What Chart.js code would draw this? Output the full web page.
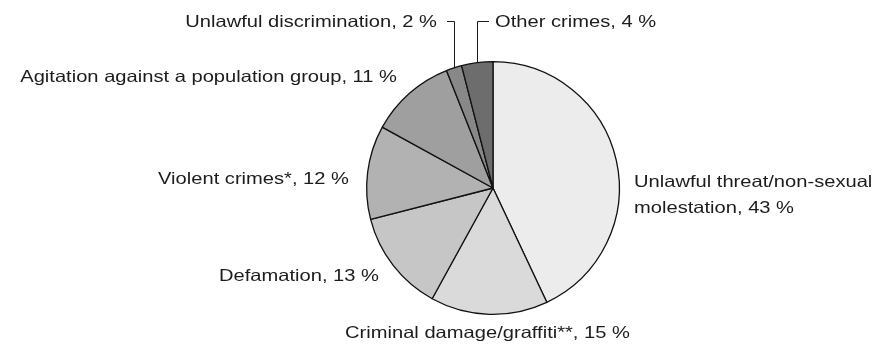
<!DOCTYPE html>
<html>
<head>
<meta charset="utf-8">
<script src="https://cdn.jsdelivr.net/npm/chart.js@4"></script>
<style>
  html, body { margin: 0; padding: 0; background: #fff; }
  #wrap { width: 873px; height: 347px; }
</style>
</head>
<body>
<div id="wrap"><canvas id="myChart"></canvas></div>
<script>
const categories = [
    'Unlawful threat/non-sexual molestation',
    'Criminal damage/graffiti**',
    'Defamation',
    'Violent crimes*',
    'Agitation against a population group',
    'Unlawful discrimination',
    'Other crimes'
];
const shares = [43, 15, 13, 12, 11, 2, 4];
const sliceColors = ['#ececec', '#dadada', '#c6c6c6', '#b2b2b2', '#9f9f9f', '#888888', '#6d6d6d'];

// label text lines (split for wrapping) and placement relative to pie centre (baseline)
const labelLines = [
    ['Unlawful threat/non-sexual', 'molestation, 43 %'],
    ['Criminal damage/graffiti**, 15 %'],
    ['Defamation, 13 %'],
    ['Violent crimes*, 12 %'],
    ['Agitation against a population group, 11 %'],
    ['Unlawful discrimination, 2 %'],
    ['Other crimes, 4 %']
];
const labelPos = [
    { dx: 141, dy: -1, align: 'left' },
    { dx: -148, dy: 150, align: 'left' },
    { dx: -114, dy: 93, align: 'right' },
    { dx: -144, dy: -4, align: 'right' },
    { dx: -96, dy: -106, align: 'right' },
    { dx: -56, dy: -161, align: 'right', leader: 'right' },
    { dx: 2, dy: -161, align: 'left', leader: 'left' }
];
const textScaleX = 1.22;

const pieLabels = {
    id: 'pieLabels',
    afterDraw(chart) {
        const c = chart.ctx;
        const arcs = chart.getDatasetMeta(0).data;
        c.save();
        c.font = '16.5px "Liberation Sans", Arial, sans-serif';
        c.fillStyle = '#1c1c1c';
        c.strokeStyle = '#1c1c1c';
        c.lineWidth = 1;
        c.textBaseline = 'alphabetic';
        arcs.forEach((arc, i) => {
            const p = labelPos[i];
            const cx = arc.x, cy = arc.y;
            const tx = cx + p.dx, ty = cy + p.dy;
            labelLines[i].forEach((ln, k) => {
                c.save();
                c.translate(tx, ty + k * 26);
                c.scale(textScaleX, 1);
                c.textAlign = p.align;
                c.fillText(ln, 0, 0);
                c.restore();
            });
            if (p.leader) {
                const mid = (arc.startAngle + arc.endAngle) / 2;
                const ex = cx + Math.cos(mid) * arc.outerRadius;
                const ey = cy + Math.sin(mid) * arc.outerRadius;
                const lx = Math.round(ex) + 0.5;
                const ly = Math.round(ty - 6) + 0.5;
                const hx = p.leader === 'right' ? tx + 10 : tx - 6;
                c.beginPath();
                c.moveTo(lx, ey);
                c.lineTo(lx, ly);
                c.lineTo(hx, ly);
                c.stroke();
            }
        });
        c.restore();
    }
};

const ctx = document.getElementById('myChart').getContext('2d');
const myChart = new Chart(ctx, {
    type: 'pie',
    data: {
        labels: categories,
        datasets: [{
            data: shares,
            backgroundColor: sliceColors,
            borderColor: '#111',
            borderWidth: 1.3,
            hoverOffset: 0
        }]
    },
    options: {
        responsive: true,
        maintainAspectRatio: false,
        animation: false,
        layout: {
            padding: { left: 366, right: 253, top: 61, bottom: 32 }
        },
        plugins: {
            legend: { display: false },
            tooltip: { enabled: false }
        }
    },
    plugins: [pieLabels]
});
</script>
</body>
</html>
